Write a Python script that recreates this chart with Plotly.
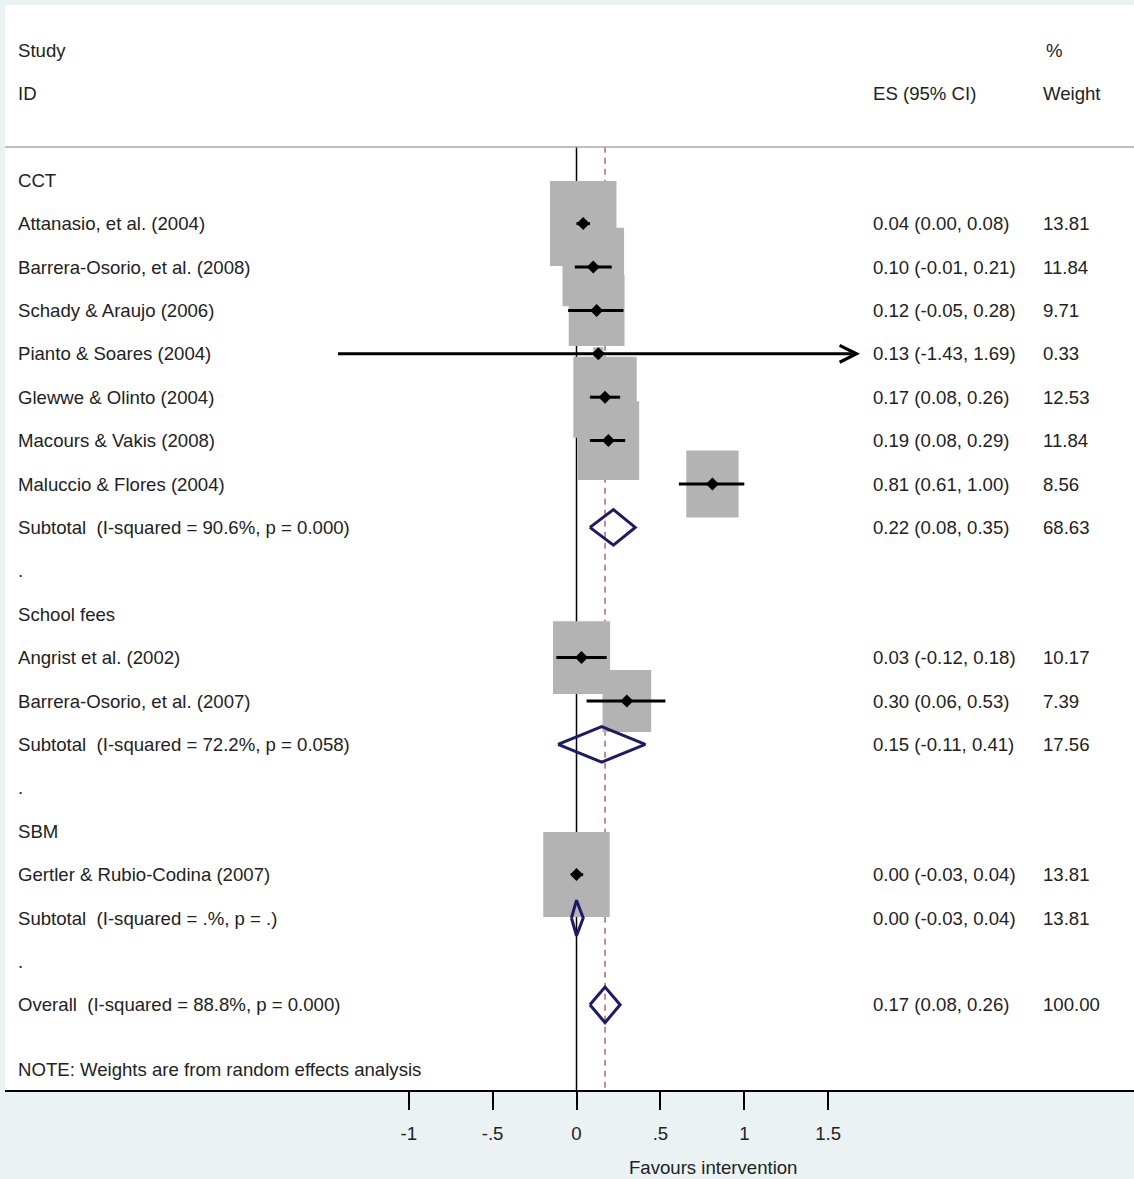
import plotly.graph_objects as go

# ---- data ---------------------------------------------------------------
study_labels = [
    "Attanasio, et al. (2004)",
    "Barrera-Osorio, et al. (2008)",
    "Schady & Araujo (2006)",
    "Pianto & Soares (2004)",
    "Glewwe & Olinto (2004)",
    "Macours & Vakis (2008)",
    "Maluccio & Flores (2004)",
    "Angrist et al. (2002)",
    "Barrera-Osorio, et al. (2007)",
    "Gertler & Rubio-Codina (2007)",
]
study_rows = [4, 5, 6, 7, 8, 9, 10, 14, 15, 19]
study_es = [0.04, 0.10, 0.12, 0.13, 0.17, 0.19, 0.81, 0.03, 0.30, 0.00]
study_lo = [0.00, -0.01, -0.05, -1.43, 0.08, 0.08, 0.61, -0.12, 0.06, -0.03]
study_hi = [0.08, 0.21, 0.28, 1.69, 0.26, 0.29, 1.00, 0.18, 0.53, 0.04]
study_weight = [13.81, 11.84, 9.71, 0.33, 12.53, 11.84, 8.56, 10.17, 7.39, 13.81]

pooled_labels = [
    "Subtotal  (I-squared = 90.6%, p = 0.000)",
    "Subtotal  (I-squared = 72.2%, p = 0.058)",
    "Subtotal  (I-squared = .%, p = .)",
    "Overall  (I-squared = 88.8%, p = 0.000)",
]
pooled_rows = [11, 16, 20, 22]
pooled_es = [0.22, 0.15, 0.00, 0.17]
pooled_lo = [0.08, -0.11, -0.03, 0.08]
pooled_hi = [0.35, 0.41, 0.04, 0.26]
pooled_weight = [68.63, 17.56, 13.81, 100.00]

group_labels = ["CCT", ".", "School fees", ".", "SBM", "."]
group_rows = [3, 12, 13, 17, 18, 21]

tick_values = [-1, -0.5, 0, 0.5, 1, 1.5]
tick_labels = ["-1", "-.5", "0", ".5", "1", "1.5"]

overall_es = pooled_es[-1]
arrow_studies = ["Pianto & Soares (2004)"]  # CI runs off the drawn range

# ---- geometry -----------------------------------------------------------
W, H = 1134, 1179
ML, MT, MR, MB = 5, 5, 0, 89
X0_PX, X_UNIT = 576.5, 167.8          # pixel of x=0, pixels per unit
ROW0_PX, ROW_PX = 50.0, 43.4          # pixel of row 0, pixels per row
x_range = [(ML - X0_PX) / X_UNIT, (W - MR - X0_PX) / X_UNIT]
y_range = [(H - MB - ROW0_PX) / ROW_PX, (MT - ROW0_PX) / ROW_PX]


def px_to_paper_x(px):
    return (px - ML) / (W - ML - MR)


def px_to_paper_y(py):
    return (H - MB - py) / (H - MT - MB)


BOX_W = 66.5 / X_UNIT        # box width (x units) at the reference weight
BOX_H = 85.0 / ROW_PX        # box height (rows) at the reference weight
REF_W = 13.81
TOP_ROW = 2.23

FONT = "Liberation Sans, Arial, sans-serif"
FSIZE = 18.6
TXT = "#222222"
NAVY = "#1b1b66"
BOX = "#b3b3b3"

fig = go.Figure()
shapes = []

# reference lines (under the boxes)
shapes.append(dict(type="line", xref="x", yref="y", x0=0, x1=0,
                   y0=TOP_ROW, y1=y_range[0], layer="below",
                   line=dict(color="black", width=1.5)))
shapes.append(dict(type="line", xref="x", yref="y", x0=overall_es, x1=overall_es,
                   y0=TOP_ROW, y1=y_range[0], layer="below",
                   line=dict(color="#a0404f", width=1.2, dash="6px,5px")))

# weight boxes
for es, w, r in zip(study_es, study_weight, study_rows):
    s = (w / REF_W) ** 0.5
    shapes.append(dict(type="rect", xref="x", yref="y", layer="below",
                       x0=es - BOX_W * s / 2, x1=es + BOX_W * s / 2,
                       y0=r - BOX_H * s / 2, y1=r + BOX_H * s / 2,
                       fillcolor=BOX, line=dict(width=0)))

# header separator
shapes.append(dict(type="line", xref="paper", yref="paper", x0=0, x1=1,
                   y0=px_to_paper_y(147), y1=px_to_paper_y(147),
                   line=dict(color="#a8a8a8", width=1.5)))

# confidence intervals
for name, es, lo, hi, r in zip(study_labels, study_es, study_lo, study_hi, study_rows):
    if name in arrow_studies:
        continue
    fig.add_trace(go.Scatter(x=[lo, hi], y=[r, r], mode="lines",
                             line=dict(color="black", width=3),
                             hoverinfo="skip", showlegend=False))

annotations = []
for name, es, lo, hi, r in zip(study_labels, study_es, study_lo, study_hi, study_rows):
    if name in arrow_studies:
        annotations.append(dict(x=hi, y=r, ax=lo, ay=r, xref="x", yref="y",
                                axref="x", ayref="y", text="", showarrow=True,
                                arrowhead=5, arrowsize=1.1, arrowwidth=3,
                                arrowcolor="black", standoff=0, startstandoff=0))

# point estimates
fig.add_trace(go.Scatter(x=study_es, y=study_rows, mode="markers",
                         marker=dict(symbol="diamond", size=10, color="black"),
                         hoverinfo="skip", showlegend=False))

# pooled diamonds
for es, lo, hi, r in zip(pooled_es, pooled_lo, pooled_hi, pooled_rows):
    half = 0.41
    fig.add_trace(go.Scatter(x=[lo, es, hi, es, lo], y=[r, r - half, r, r + half, r],
                             mode="lines", line=dict(color=NAVY, width=3),
                             hoverinfo="skip", showlegend=False))

# ---- text columns -------------------------------------------------------
COL_ID = px_to_paper_x(16)
COL_ES = px_to_paper_x(871)
COL_WT = px_to_paper_x(1041)


def text(x, y, s, yref="y"):
    annotations.append(dict(x=x, y=y, xref="paper", yref=yref, text=s,
                            showarrow=False, xanchor="left", yanchor="middle",
                            font=dict(family=FONT, size=FSIZE, color=TXT)))


text(COL_ID, 0, "Study")
text(COL_ID, 1, "ID")
text(COL_ES, 1, "ES (95% CI)")
text(px_to_paper_x(1044), 0, "%")
text(COL_WT, 1, "Weight")

for lab, r in zip(group_labels, group_rows):
    text(COL_ID, r, lab)

for lab, es, lo, hi, w, r in zip(study_labels, study_es, study_lo, study_hi,
                                 study_weight, study_rows):
    text(COL_ID, r, lab)
    text(COL_ES, r, f"{es:.2f} ({lo:.2f}, {hi:.2f})")
    text(COL_WT, r, f"{w:.2f}")

for lab, es, lo, hi, w, r in zip(pooled_labels, pooled_es, pooled_lo, pooled_hi,
                                 pooled_weight, pooled_rows):
    text(COL_ID, r, lab)
    text(COL_ES, r, f"{es:.2f} ({lo:.2f}, {hi:.2f})")
    text(COL_WT, r, f"{w:.2f}")

text(COL_ID, 23.5, "NOTE: Weights are from random effects analysis")

annotations.append(dict(x=px_to_paper_x(713), y=px_to_paper_y(1167),
                        xref="paper", yref="paper", text="Favours intervention",
                        showarrow=False, xanchor="center", yanchor="middle",
                        font=dict(family=FONT, size=FSIZE, color=TXT)))

fig.update_layout(
    width=W, height=H,
    margin=dict(l=ML, r=MR, t=MT, b=MB),
    paper_bgcolor="#eaf2f3",
    plot_bgcolor="white",
    showlegend=False,
    shapes=shapes,
    annotations=annotations,
    xaxis=dict(range=x_range, showgrid=False, zeroline=False,
               showline=True, linecolor="black", linewidth=1.5,
               ticks="outside", ticklen=18, tickwidth=1.5, tickcolor="black",
               ticklabelstandoff=8,
               tickvals=tick_values, ticktext=tick_labels,
               tickfont=dict(family=FONT, size=FSIZE, color=TXT)),
    yaxis=dict(range=y_range, showgrid=False, zeroline=False,
               showticklabels=False, showline=False, ticks=""),
)

fig.write_html("out.html")
